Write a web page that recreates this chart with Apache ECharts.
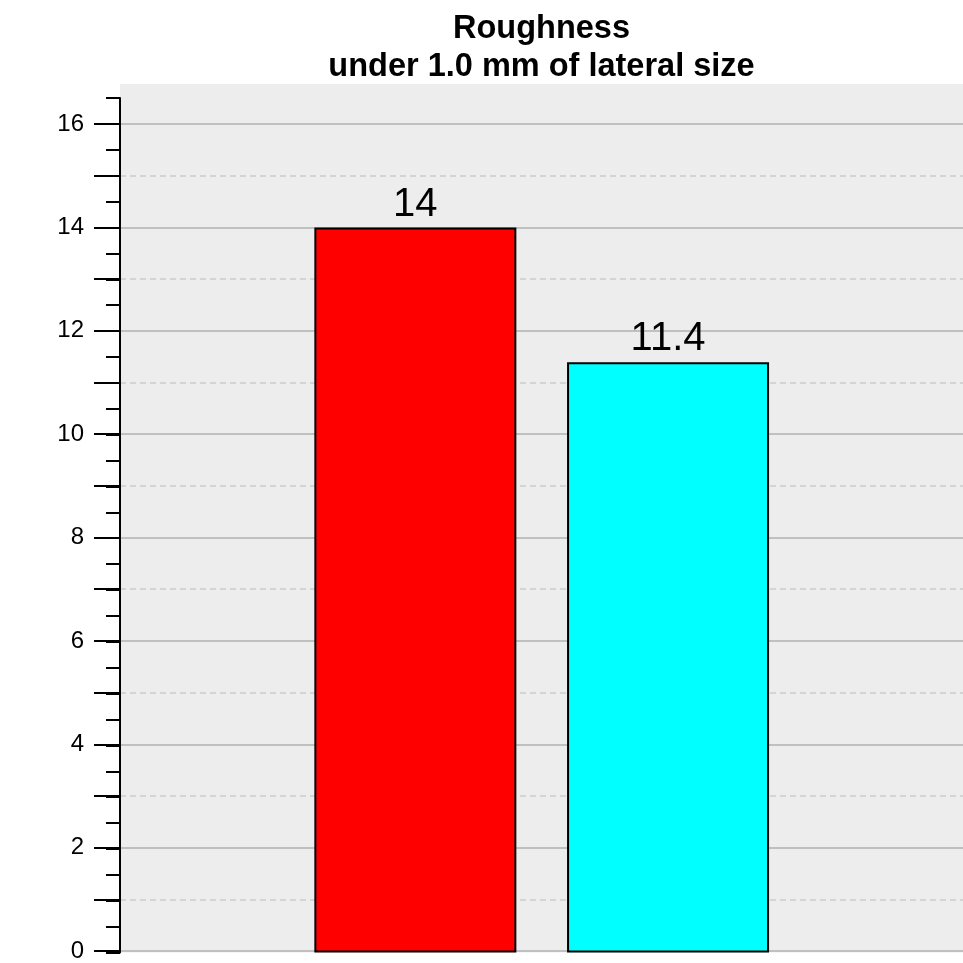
<!DOCTYPE html>
<html>
<head>
<meta charset="utf-8">
<script src="https://cdn.jsdelivr.net/npm/echarts@6/dist/echarts.min.js"></script>
<style>html,body{margin:0;padding:0;background:#fff}#c{width:963px;height:963px}</style>
</head>
<body>
<div id="c"></div>
<script>
const titleLines = ['Roughness', 'under 1.0 mm of lateral size'];
const categories = ['A', 'B'];
const values = [14, 11.4];
const barColors = ['#ff0000', '#00ffff'];
const yMin = 0, yMax = 16.5, yLabelMax = 16;

const FONT = 'Arial, "Liberation Sans", sans-serif';
const chart = echarts.init(document.getElementById('c'), null, {renderer: 'canvas'});
const TOP_AX = 98.1, TOP_LAB = 124.0, BOT = 10.5;
chart.setOption({
  animation: false,
  backgroundColor: '#ffffff',
  title: {
    text: titleLines.join('\n'),
    left: 541.5,
    textAlign: 'center',
    top: 10,
    padding: 0,
    textStyle: {fontFamily: FONT, fontSize: 32.5, fontWeight: 'bold', color: '#000', lineHeight: 38}
  },
  graphic: [{
    type: 'rect', z: -10, silent: true,
    shape: {x: 120, y: 84, width: 843, height: 952.5 - 84},
    style: {fill: '#ededed'}
  }],
  grid: [
    {left: 120, right: 0, top: TOP_AX, bottom: BOT},
    {left: 120, right: 0, top: TOP_LAB, bottom: BOT},
    {left: 289, right: 168.6, top: TOP_AX, bottom: BOT}
  ],
  xAxis: [
    {type: 'value', gridIndex: 0, show: false, min: 0, max: 1},
    {type: 'value', gridIndex: 1, show: false, min: 0, max: 1},
    {type: 'category', gridIndex: 2, data: categories, show: false}
  ],
  yAxis: [
    {type: 'value', gridIndex: 0, min: yMin, max: yMax, interval: 0.5,
     axisLine: {show: true, lineStyle: {color: '#000', width: 2}},
     axisTick: {show: true, length: 14, lineStyle: {color: '#000', width: 2}},
     axisLabel: {show: false}, splitLine: {show: false}},
    {type: 'value', gridIndex: 1, min: yMin, max: yLabelMax, interval: 1,
     axisLine: {show: false},
     axisTick: {show: true, length: 26, lineStyle: {color: '#000', width: 2}},
     axisLabel: {show: true, margin: 36, fontSize: 24, color: '#000', fontFamily: FONT,
       padding: [5, 0, 0, 0],
       formatter: v => (v % 2 === 0 ? String(v) : '')},
     splitLine: {show: true, lineStyle: {color: '#cccccc', width: 1.5, type: [6, 4]}}},
    {type: 'value', gridIndex: 1, min: yMin, max: yLabelMax, interval: 2, position: 'left',
     axisLine: {show: false}, axisTick: {show: false}, axisLabel: {show: false},
     splitLine: {show: true, lineStyle: {color: '#c0c0c0', width: 2}}},
    {type: 'value', gridIndex: 2, min: yMin, max: yMax, show: false}
  ],
  series: [{
    type: 'bar',
    xAxisIndex: 2, yAxisIndex: 3,
    barWidth: 202,
    data: values.map((v, i) => ({value: v, itemStyle: {color: barColors[i]}})),
    itemStyle: {borderColor: '#000', borderWidth: 2},
    label: {show: true, position: 'top', distance: 3, fontSize: 40, color: '#000', fontFamily: FONT},
    z: 5
  }]
});
</script>
</body>
</html>
